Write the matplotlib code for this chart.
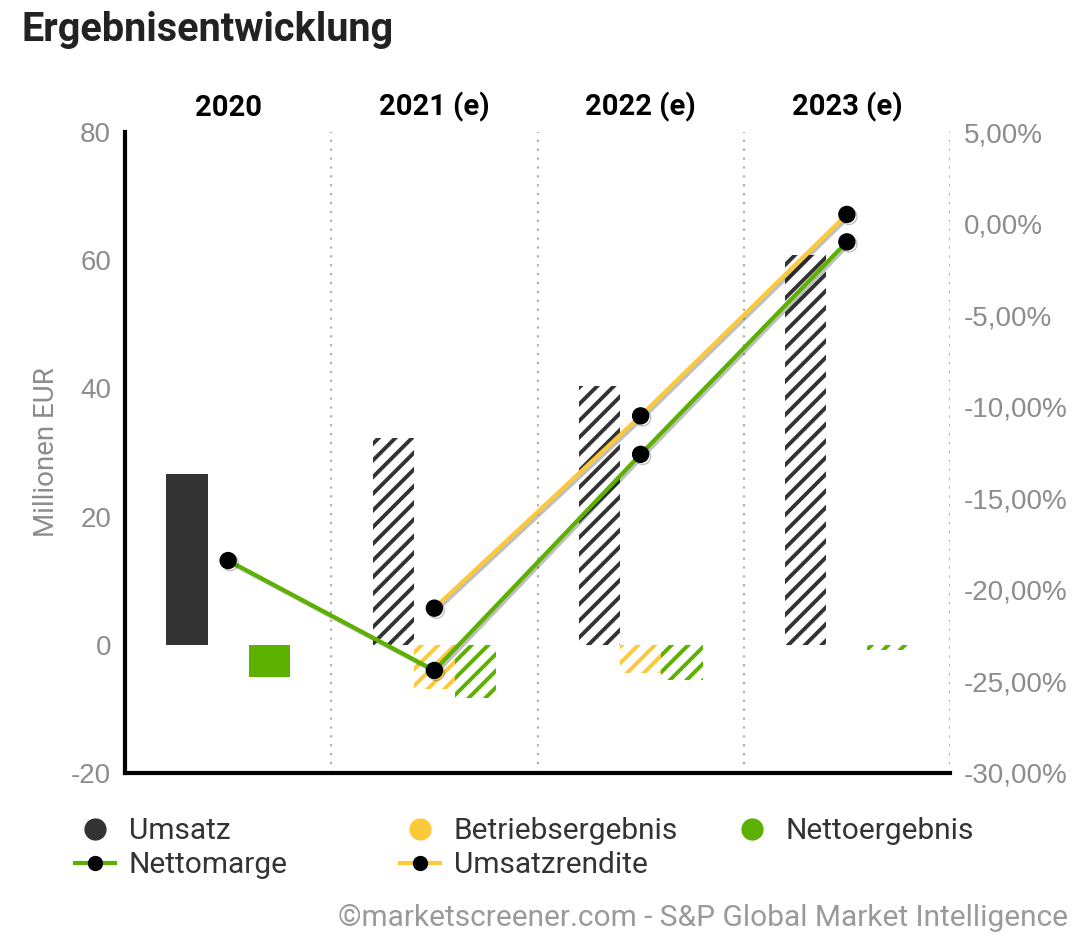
import matplotlib
matplotlib.use('Agg')
import matplotlib.pyplot as plt
import matplotlib.patheffects as pe
from matplotlib.lines import Line2D
import numpy as np

# data
years = ['2020', '2021 (e)', '2022 (e)', '2023 (e)']
estimated = [False, True, True, True]
umsatz = [26.6, 32.2, 40.3, 60.8]
betriebsergebnis = [np.nan, -6.9, -4.4, np.nan]
nettoergebnis = [-5.1, -8.3, -5.5, -0.8]
nettomarge = [-18.4, -24.4, -12.6, -1.0]
umsatzrendite = [np.nan, -21.0, -10.5, 0.5]

c_umsatz = '#333333'
c_betrieb = '#fcc93a'
c_netto = '#5bb000'
gray = '#8c8c8c'

plt.rcParams['hatch.linewidth'] = 2.8
plt.rcParams['axes.unicode_minus'] = False

fig = plt.figure(figsize=(10.8, 9.4), dpi=100)
ax = fig.add_axes([125 / 1080, 1 - 773 / 940, 825 / 1080, 641 / 940])
ax2 = ax.twinx()

x = np.arange(len(years))
w = 0.2
series = [(umsatz, -w, c_umsatz), (betriebsergebnis, 0, c_betrieb), (nettoergebnis, w, c_netto)]
for vals, off, col in series:
    bars = ax.bar(x + off, vals, width=w, color=col, linewidth=0, zorder=2)
    for b, est in zip(bars, estimated):
        if est:
            b.set_facecolor('white')
            b.set_edgecolor(col)
            b.set_hatch('//')

shadow = [pe.SimpleLineShadow(offset=(1.5, -1.5), alpha=0.25), pe.Normal()]
ax2.plot(x, umsatzrendite, color=c_betrieb, lw=3, marker='o', ms=11.5,
         mfc='black', mec='black', zorder=3, path_effects=shadow)
ax2.plot(x, nettomarge, color=c_netto, lw=3, marker='o', ms=11.5,
         mfc='black', mec='black', zorder=3, path_effects=shadow)

ax.set_xlim(-0.5, 3.5)
ax.set_ylim(-20, 80)
ax.set_yticks(range(-20, 81, 20))
ax2.set_ylim(-30, 5)
ax2.set_yticks(range(-30, 6, 5))
ax2.set_yticklabels([f"{v:.2f}".replace('.', ',') + '%' for v in range(-30, 6, 5)])

for xv in [0.5, 1.5, 2.5, 3.5]:
    ax.axvline(xv, color='#b0b0b0', lw=1.6, linestyle=(0, (1, 3)), zorder=1)

ax.xaxis.tick_top()
ax.set_xticks(x)
ax.set_xticklabels(years, fontsize=21, fontweight='bold', family='Roboto', color='black')
ax.tick_params(axis='x', length=0, pad=7)
ax.tick_params(axis='y', length=0, pad=10, labelsize=20, labelcolor=gray)
ax2.tick_params(axis='y', length=0, pad=10, labelsize=20, labelcolor=gray)
for lab in ax.get_yticklabels() + ax2.get_yticklabels():
    lab.set_family('Liberation Sans')

for s in ['top', 'right']:
    ax.spines[s].set_visible(False)
for s in ['left', 'bottom']:
    ax.spines[s].set_linewidth(3)
    ax.spines[s].set_color('black')
for s in ax2.spines.values():
    s.set_visible(False)

ax.set_ylabel('Millionen EUR', fontsize=20, color=gray, family='Roboto', labelpad=8)

fig.text(22 / 1080, 1 - 30 / 940, 'Ergebnisentwicklung', fontsize=28.5, fontweight='bold',
         family='Roboto', color='#222222', va='center', ha='left')

# legend, laid out in three columns
def dot(col):
    return Line2D([], [], ls='none', marker='o', ms=15, mfc=col, mec=col)

def line(col):
    return Line2D([], [], color=col, lw=3, marker='o', ms=10, mfc='black', mec='black')

cols = [
    ([dot(c_umsatz), line(c_netto)], ['Umsatz', 'Nettomarge'], 75),
    ([dot(c_betrieb), line(c_betrieb)], ['Betriebsergebnis', 'Umsatzrendite'], 400),
    ([dot(c_netto)], ['Nettoergebnis'], 732),
]
for handles, labels, xpx in cols:
    leg = fig.legend(handles, labels, loc='upper left', bbox_to_anchor=(xpx / 1080, 1 - 817 / 940),
                     frameon=False, borderpad=0, borderaxespad=0, handlelength=1.35,
                     handletextpad=0.45, labelspacing=0.2, prop={'family': 'Roboto', 'size': 21.5})
    for t in leg.get_texts():
        t.set_color('#333333')

fig.text(1068 / 1080, 1 - 918 / 940, '©marketscreener.com - S&P Global Market Intelligence',
         fontsize=21.5, color='#9a9a9a', family='Roboto', ha='right', va='center')

fig.savefig('out.png', dpi=100)
